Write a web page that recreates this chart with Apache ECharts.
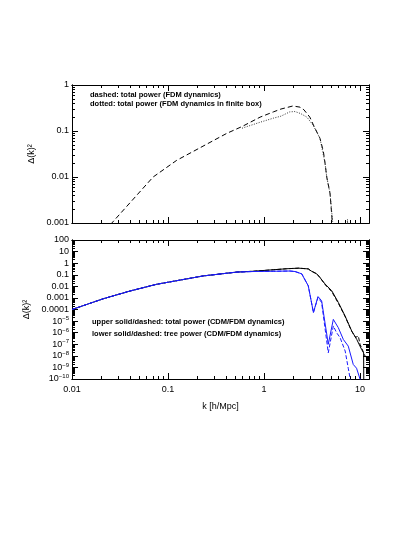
<!DOCTYPE html>
<html><head><meta charset="utf-8">
<script src="https://cdn.jsdelivr.net/npm/echarts@6/dist/echarts.min.js"></script>
<style>html,body{margin:0;padding:0;background:#fff}#c{width:415px;height:537px}</style>
</head><body><div id="c"></div>
<script>
// ---------- data ----------
// top panel: FDM total power (dashed)
const fdmTotalK = [0.022,0.026,0.07,0.123,0.41,0.59,0.91,1.25,1.5,2.0,2.37,2.6,3.0,3.27,3.83,4.15,4.32,4.5,4.87,5.15,5.3];
const fdmTotalP = [0.0007,0.001,0.01,0.023,0.089,0.125,0.2,0.26,0.3,0.35,0.33,0.29,0.2,0.135,0.069,0.036,0.02,0.01,0.0044,0.001,0.0006];
// top panel: FDM total power in finite box (dotted)
const boxK = [0.59,0.91,1.25,1.5,1.85,2.1,2.4,2.8,3.27,3.83,4.32,4.5,4.87,5.2,5.4,6.0,7.3,7.4,7.5];
const boxP = [0.115,0.155,0.19,0.21,0.26,0.265,0.24,0.2,0.13,0.069,0.02,0.01,0.0044,0.001,0.0005,null,0.0005,0.0012,0.0005];
// bottom panel: CDM total power (black solid)
const cdmTotalK = [0.01,0.0212,0.04,0.076,0.233,0.52,0.77,1.25,1.72,2.3,2.89,3.1,3.54,3.83,4.32,5.07,5.94,6.98,8.19,9.24,10.4,10.9,10.95];
const cdmTotalP = [1e-4,8.5e-4,3.9e-3,0.015,0.079,0.17,0.2,0.27,0.33,0.37,0.32,0.21,0.12,0.057,0.016,4.2e-3,4.1e-4,2.8e-5,1.4e-6,2.6e-7,3.5e-8,1.8e-8,1e-11];
// bottom panel: FDM total power (black dashed)
const fdmTotBK = [0.01,0.0212,0.04,0.076,0.233,0.52,0.77,1.25,1.72,2.3,2.89,3.1,3.54,3.83,4.32,5.07,5.94,6.98,8.19,9.0,9.6,10.0,11.3,12.4];
const fdmTotBP = [1e-4,8.5e-4,3.9e-3,0.015,0.079,0.17,0.2,0.27,0.33,0.37,0.32,0.21,0.12,0.057,0.014,3.5e-3,3.5e-4,2.5e-5,1.3e-6,4e-7,5e-7,1e-7,9.3e-9,4e-9];
// bottom panel: CDM tree power (blue solid)
const cdmTreeK = [0.01,0.0212,0.04,0.076,0.233,0.52,0.77,1.25,1.86,2.1,2.47,2.89,3.27,3.65,3.98,4.67,5.27,5.94,6.7,7.54,8.5,9.2,10.0,10.3];
const cdmTreeP = [1e-4,8.5e-4,3.9e-3,0.015,0.079,0.17,0.19,0.2,0.21,0.19,0.12,0.011,5.5e-5,1.3e-3,5.7e-4,1e-7,1.4e-5,2.7e-6,2.6e-7,6.9e-8,1.8e-9,8.5e-10,1e-10,5e-11];
// bottom panel: FDM tree power (blue dashed)
const fdmTreeK = [0.01,0.0212,0.04,0.076,0.233,0.52,0.77,1.25,1.86,2.1,2.47,2.89,3.27,3.65,3.98,4.67,5.27,5.7,6.2,7.0,7.54,7.9,8.1];
const fdmTreeP = [1e-4,8.5e-4,3.9e-3,0.015,0.079,0.17,0.19,0.2,0.21,0.19,0.12,0.011,5.5e-5,1.1e-3,4e-4,1.8e-8,3.8e-6,1e-6,3.7e-7,2.6e-8,8.5e-10,1e-10,5e-11];

// tick labels
const xTickVals = [0.01,0.1,1,10];
const xTickLabels = ['0.01','0.1','1','10'];
const yTopVals = [1,0.1,0.01,0.001];
const yTopLabels = ['1','0.1','0.01','0.001'];
const yBotVals = [100,10,1,0.1,0.01,0.001,1e-4,1e-5,1e-6,1e-7,1e-8,1e-9,1e-10];
const yBotLabels = ['100','10','1','0.1','0.01','0.001','0.0001','10{s|−5}','10{s|−6}','10{s|−7}','10{s|−8}','10{s|−9}','10{s|−10}'];
const notesTop = ['dashed: total power (FDM dynamics)','dotted: total power (FDM dynamics in finite box)'];
const notesBot = ['upper solid/dashed: total power (CDM/FDM dynamics)','lower solid/dashed: tree power (CDM/FDM dynamics)'];

// ---------- helpers ----------
const FONT = 'Liberation Sans, Arial, sans-serif';
function minors(lo, hi) {
  const out = [];
  for (let e = Math.floor(Math.log10(lo)) ; e <= Math.ceil(Math.log10(hi)); e++) {
    for (let m = 2; m <= 9; m++) {
      const v = m * Math.pow(10, e);
      if (v > lo && v < hi) out.push(v);
    }
  }
  return out;
}
function labelFor(vals, labels, v) {
  const i = vals.findIndex(x => Math.abs(Math.log10(x) - Math.log10(v)) < 0.01);
  return i >= 0 ? labels[i] : '';
}
const X_MIN = 0.01, X_MAX = 12.4;
function mkX(grid, pos, major, showLabel) {
  const ax = {
    type: 'log', logBase: 10, gridIndex: grid, position: pos, min: X_MIN, max: X_MAX, offset: 0,
    axisLine: { show: true, onZero: false, lineStyle: { color: '#000', width: 1 } },
    splitLine: { show: false },
    axisTick: { show: true, inside: true, length: major ? 6 : 3, lineStyle: { color: '#000', width: 1 },
      customValues: major ? xTickVals : minors(X_MIN, X_MAX) },
    axisLabel: { show: false }
  };
  if (showLabel) {
    ax.axisLabel = { show: true, customValues: xTickVals, margin: 6, fontSize: 9, color: '#000', fontFamily: FONT,
      formatter: v => labelFor(xTickVals, xTickLabels, v) };
    ax.name = 'k [h/Mpc]'; ax.nameLocation = 'middle'; ax.nameGap = 23;
    ax.nameTextStyle = { fontSize: 9, color: '#000', fontFamily: FONT };
  }
  return ax;
}
function mkY(grid, pos, major, lo, hi, vals, labels, showLabel) {
  const ax = {
    type: 'log', logBase: 10, gridIndex: grid, position: pos, min: lo, max: hi, offset: 0,
    axisLine: { show: true, onZero: false, lineStyle: { color: '#000', width: 1 } },
    splitLine: { show: false },
    axisTick: { show: true, inside: true, length: major ? 6 : 3, lineStyle: { color: '#000', width: 1 },
      customValues: major ? vals : minors(lo, hi) },
    axisLabel: { show: false }
  };
  if (showLabel) {
    ax.axisLabel = { show: true, customValues: vals, margin: 3, fontSize: 9, color: '#000', fontFamily: FONT,
      formatter: v => labelFor(vals, labels, v),
      rich: { s: { fontSize: 6, fontFamily: FONT, color: '#000', padding: [0, 0, 5, 0] } } };
    ax.name = 'Δ(k)²'; ax.nameLocation = 'middle'; ax.nameGap = 33; ax.nameRotate = 90;
    ax.nameTextStyle = { fontSize: 9, color: '#000', fontFamily: FONT };
  }
  return ax;
}
const pairs = (ks, ps) => ks.map((k, i) => [k, ps[i] == null ? '-' : ps[i]]);

const xAxis = [
  mkX(0, 'bottom', true, false), mkX(0, 'bottom', false, false), mkX(0, 'top', true, false), mkX(0, 'top', false, false),
  mkX(1, 'bottom', true, true), mkX(1, 'bottom', false, false), mkX(1, 'top', true, false), mkX(1, 'top', false, false)
];
const yAxis = [
  mkY(0, 'left', true, 0.001, 1, yTopVals, yTopLabels, true), mkY(0, 'left', false, 0.001, 1, yTopVals, yTopLabels, false),
  mkY(0, 'right', true, 0.001, 1, yTopVals, yTopLabels, false), mkY(0, 'right', false, 0.001, 1, yTopVals, yTopLabels, false),
  mkY(1, 'left', true, 1e-10, 100, yBotVals, yBotLabels, true), mkY(1, 'left', false, 1e-10, 100, yBotVals, yBotLabels, false),
  mkY(1, 'right', true, 1e-10, 100, yBotVals, yBotLabels, false), mkY(1, 'right', false, 1e-10, 100, yBotVals, yBotLabels, false)
];

const BLUE = '#1a1aff';
const line = (name, xi, yi, data, color, type) => ({
  name, type: 'line', xAxisIndex: xi, yAxisIndex: yi, data, showSymbol: false, symbol: 'none',
  connectNulls: false, animation: false,
  lineStyle: { color, width: 1, type }
});

const series = [
  line('fdm total', 0, 0, pairs(fdmTotalK, fdmTotalP), '#000', [5, 3]),
  line('fdm box', 0, 0, pairs(boxK, boxP), '#333', [1, 1.5]),
  line('fdm total b', 4, 4, pairs(fdmTotBK, fdmTotBP), '#000', [4, 2]),
  line('cdm total', 4, 4, pairs(cdmTotalK, cdmTotalP), '#000', 'solid'),
  line('fdm tree', 4, 4, pairs(fdmTreeK, fdmTreeP), BLUE, [4, 2]),
  line('cdm tree', 4, 4, pairs(cdmTreeK, cdmTreeP), BLUE, 'solid')
];

const noteStyle = { fontSize: 7.5, fontWeight: 'bold', fontFamily: FONT, fill: '#000' };
const graphic = [
  { type: 'text', x: 90, y: 95, style: Object.assign({ text: notesTop[0], verticalAlign: 'middle' }, noteStyle) },
  { type: 'text', x: 90, y: 104, style: Object.assign({ text: notesTop[1], verticalAlign: 'middle' }, noteStyle) },
  { type: 'text', x: 92, y: 322, style: Object.assign({ text: notesBot[0], verticalAlign: 'middle' }, noteStyle) },
  { type: 'text', x: 92, y: 334, style: Object.assign({ text: notesBot[1], verticalAlign: 'middle' }, noteStyle) }
];

const chart = echarts.init(document.getElementById('c'), null, { renderer: 'canvas' });
chart.setOption({
  animation: false,
  backgroundColor: '#fff',
  grid: [
    { left: 72, top: 85, width: 297, height: 138 },
    { left: 72, top: 240, width: 297, height: 139 }
  ],
  xAxis, yAxis, series, graphic
});
</script></body></html>
